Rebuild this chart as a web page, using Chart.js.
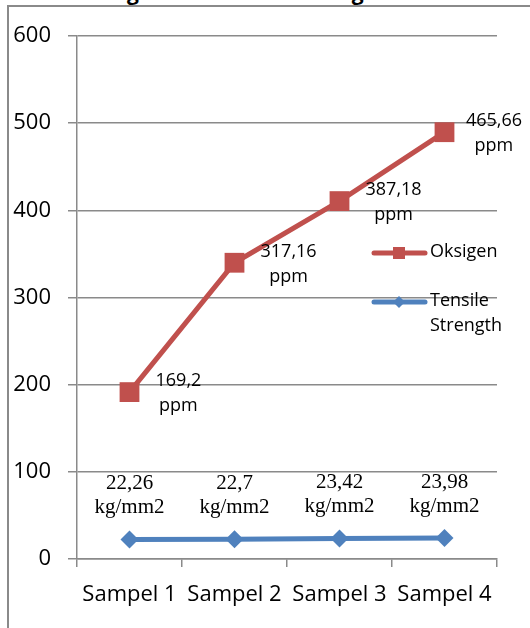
<!DOCTYPE html>
<html>
<head>
<meta charset="utf-8">
<script src="https://cdn.jsdelivr.net/npm/chart.js@4.4.0/dist/chart.umd.min.js"></script>
<style>
  html, body { margin: 0; padding: 0; background: #fff; overflow: hidden; }
  #wrap { position: relative; width: 530px; height: 628px; overflow: hidden; }
  #frame {
    position: absolute; left: 7px; top: 5px; width: 540px; height: 640px;
    border-left: 2px solid #8a8a8a; border-top: 2px solid #8a8a8a;
  }
  #title {
    position: absolute; left: 10px; top: -22px; white-space: nowrap;
    font: bold 21px "Open Sans", sans-serif; color: #000;
  }
  canvas { position: absolute; left: 0; top: 0; }
</style>
</head>
<body>
<div id="wrap">
  <div id="title">Grafik Oksigen dan Tensile Strength.</div>
  <div id="frame"></div>
  <canvas id="grafik" width="530" height="628"></canvas>
</div>
<script>
const labels = ["Sampel 1", "Sampel 2", "Sampel 3", "Sampel 4"];
const oksigen = [169.2, 317.16, 387.18, 465.66];
const tensile = [22.26, 22.7, 23.42, 23.98];
const yMin = 0;
const yMax = 600;
const yStep = 100;

const RED = "#C0504D";
const BLUE = "#4F81BD";
const GRID = "#8a8a8a";

const fmt = (v) => String(v).replace(".", ",");

// data labels (Excel style): ppm to the right, kg/mm2 above
const labelPlugin = {
  id: "labels",
  afterDatasetsDraw(chart) {
    const ctx = chart.ctx;
    ctx.save();
    ctx.fillStyle = "#000";
    ctx.textAlign = "center";
    ctx.textBaseline = "middle";

    ctx.font = '18px "Open Sans"';
    chart.getDatasetMeta(1).data.forEach((pt, i) => {
      const txt = fmt(oksigen[i]);
      const w = Math.max(ctx.measureText(txt).width, ctx.measureText("ppm").width);
      const cx = Math.min(pt.x + 26 + w / 2, 522 - w / 2);
      ctx.fillText(txt, cx, pt.y - 11);
      ctx.fillText("ppm", cx, pt.y + 14);
    });

    ctx.font = '21px "Liberation Serif"';
    chart.getDatasetMeta(0).data.forEach((pt, i) => {
      ctx.fillText(fmt(tensile[i]), pt.x, pt.y - 56);
      ctx.fillText("kg/mm2", pt.x, pt.y - 32);
    });
    ctx.restore();
  },
  afterDraw(chart) {
    // legend sits over the plot area on the right
    const ctx = chart.ctx;
    ctx.save();
    ctx.lineCap = "round";
    ctx.lineWidth = 5;

    ctx.strokeStyle = RED;
    ctx.beginPath(); ctx.moveTo(374, 253); ctx.lineTo(425, 253); ctx.stroke();
    ctx.fillStyle = RED;
    ctx.fillRect(393, 247, 12, 12);

    ctx.strokeStyle = BLUE;
    ctx.beginPath(); ctx.moveTo(374, 302); ctx.lineTo(425, 302); ctx.stroke();
    ctx.fillStyle = BLUE;
    ctx.beginPath();
    ctx.moveTo(399, 296); ctx.lineTo(405, 302); ctx.lineTo(399, 308); ctx.lineTo(393, 302);
    ctx.closePath(); ctx.fill();

    ctx.fillStyle = "#000";
    ctx.font = '18px "Open Sans"';
    ctx.textAlign = "left";
    ctx.textBaseline = "middle";
    ctx.fillText("Oksigen", 430, 252);
    ctx.fillText("Tensile", 430, 301);
    ctx.fillText("Strength", 430, 326);
    ctx.restore();
  },
};

const ctx = document.getElementById("grafik").getContext("2d");
const chart = new Chart(ctx, {
  type: "line",
  data: {
    labels: labels,
    datasets: [
      {
        label: "Tensile Strength",
        data: tensile,
        borderColor: BLUE,
        backgroundColor: BLUE,
        borderWidth: 5,
        pointStyle: "rectRot",
        pointRadius: 9,
        pointBorderWidth: 0,
        tension: 0,
        fill: false,
      },
      {
        label: "Oksigen",
        data: oksigen,
        borderColor: RED,
        backgroundColor: RED,
        borderWidth: 5,
        pointStyle: "rect",
        pointRadius: 14,
        pointBorderWidth: 0,
        tension: 0,
        fill: false,
      },
    ],
  },
  options: {
    responsive: false,
    animation: false,
    layout: {
      padding: { top: 36, right: 33, left: 0, bottom: 0 },
    },
    plugins: {
      legend: { display: false },
      tooltip: { enabled: false },
      title: { display: false },
    },
    scales: {
      x: {
        offset: true,
        grid: {
          offset: true,
          drawOnChartArea: false,
          color: GRID,
          lineWidth: 1.5,
          tickLength: 8,
        },
        border: { color: GRID, width: 1.5 },
        ticks: {
          color: "#000",
          font: { family: "Open Sans", size: 22 },
          padding: 15,
          maxRotation: 0,
        },
        afterFit: (s) => { s.height = 69; },
      },
      y: {
        stacked: true,
        min: yMin,
        max: yMax,
        grid: {
          color: GRID,
          lineWidth: 1.5,
          tickLength: 9,
        },
        border: { color: GRID, width: 1.5 },
        ticks: {
          stepSize: yStep,
          color: "#000",
          font: { family: "Open Sans", size: 22 },
          padding: 17,
        },
        afterFit: (s) => { s.width = 77; },
      },
    },
  },
  plugins: [labelPlugin],
});
</script>
</body>
</html>
